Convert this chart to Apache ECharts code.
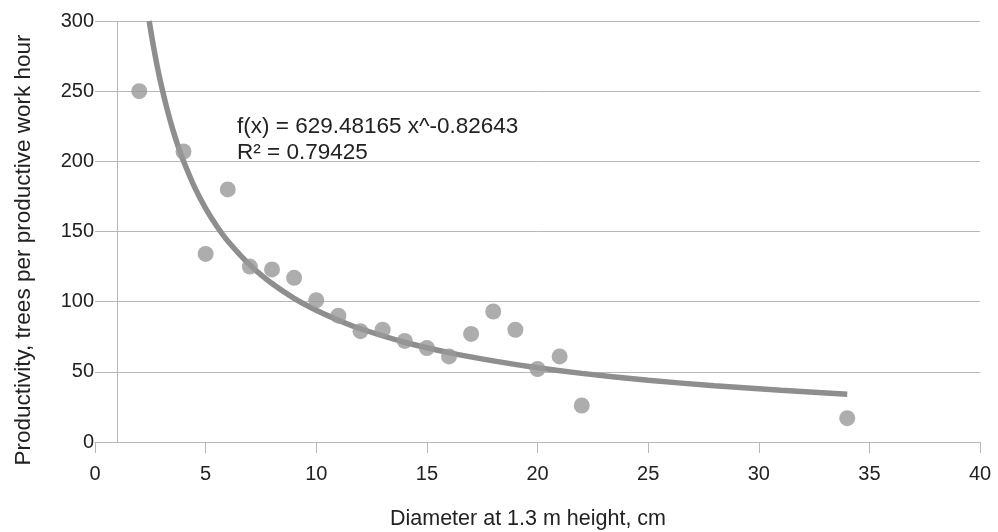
<!DOCTYPE html>
<html>
<head>
<meta charset="utf-8">
<script src="https://cdn.jsdelivr.net/npm/echarts@6/dist/echarts.min.js"></script>
<style>
html,body{margin:0;padding:0;background:#fff;}
#chart{width:998px;height:532px;}
</style>
</head>
<body>
<div id="chart"></div>
<script>
// Measured diameters (cm) and productivity (trees per productive work hour)
var diameters = [2, 4, 5, 6, 7, 8, 9, 10, 11, 12, 13, 14, 15, 16, 17, 18, 19, 20, 21, 22, 34];
var productivity = [250, 207, 134, 180, 125, 123, 117, 101, 90, 79, 80, 72, 67, 61, 77, 93, 80, 52, 61, 26, 17];

// Power trend line
var trendX = [2.45, 2.6, 2.8, 3, 3.25, 3.5, 3.75, 4, 4.5, 5, 5.5, 6, 7, 8, 9, 10, 11, 12, 14, 16, 18, 20, 22, 25, 28, 31, 34];
var trendY = [300, 285.7, 268.7, 254, 237.7, 223.5, 211.1, 200.2, 181.6, 166.5, 153.9, 143.2, 126.1, 112.9, 102.4, 93.9, 86.8, 80.7, 71.1, 63.7, 57.8, 52.9, 48.9, 44.0, 40.1, 36.9, 34.1];

var xTicks = [0, 5, 10, 15, 20, 25, 30, 35, 40];
var yTicks = [0, 50, 100, 150, 200, 250, 300];
var yAxisCrossAt = 1;

var equationLines = ['f(x) = 629.48165 x^-0.82643', 'R\u00b2 = 0.79425'];
var xTitle = 'Diameter at 1.3 m height, cm';
var yTitle = 'Productivity, trees per productive work hour';

var FONT = '"Liberation Sans", Arial, sans-serif';
var GRID = '#b8b8b8';

var chart = echarts.init(document.getElementById('chart'), null, {renderer: 'canvas'});
var scatterData = diameters.map(function (d, i) { return [d, productivity[i]]; });
var trendData = trendX.map(function (d, i) { return [d, trendY[i]]; });

chart.setOption({
  animation: false,
  backgroundColor: '#ffffff',
  textStyle: {fontFamily: FONT},
  grid: {left: 95, right: 18, top: 21, bottom: 90, containLabel: false, outerBoundsMode: 'none'},
  xAxis: {
    type: 'value',
    min: xTicks[0], max: xTicks[xTicks.length - 1], interval: 5,
    axisLine: {show: true, onZero: false, lineStyle: {color: GRID, width: 1}},
    axisTick: {show: true, inside: false, length: 11, lineStyle: {color: GRID}},
    splitLine: {show: false},
    axisLabel: {color: '#222', fontSize: 20, fontFamily: FONT, margin: 22},
    name: xTitle,
    nameLocation: 'middle',
    nameGap: 66,
    nameTextStyle: {color: '#222', fontSize: 21.5, fontFamily: FONT, padding: [0, 19, 0, 0]}
  },
  yAxis: {
    type: 'value',
    min: yTicks[0], max: yTicks[yTicks.length - 1], interval: 50,
    axisLine: {show: false},
    axisTick: {show: false},
    splitLine: {show: true, lineStyle: {color: GRID, width: 1}},
    axisLabel: {color: '#222', fontSize: 20, fontFamily: FONT, margin: 1},
    name: yTitle,
    nameLocation: 'middle',
    nameGap: 60,
    nameRotate: 90,
    nameTextStyle: {color: '#222', fontSize: 22.5, fontFamily: FONT, padding: [0, 37, 0, 0]}
  },
  series: [
    {
      type: 'line',
      data: trendData,
      smooth: 0.3,
      showSymbol: false,
      clip: true,
      lineStyle: {color: '#8e8e8e', width: 5.5},
      z: 2,
      silent: true
    },
    {
      type: 'scatter',
      data: scatterData,
      symbol: 'circle',
      symbolSize: 16,
      itemStyle: {color: '#999999'},
      z: 3,
      markLine: {
        silent: true,
        symbol: ['none', 'none'],
        label: {show: false},
        lineStyle: {color: GRID, width: 1, type: 'solid'},
        data: [{xAxis: yAxisCrossAt}],
        z: 1
      }
    }
  ],
  graphic: [
    {
      type: 'text',
      left: 237,
      top: 114,
      style: {
        text: equationLines.join('\n'),
        fill: '#222',
        font: '22.5px ' + FONT,
        lineHeight: 26
      }
    }
  ]
});
</script>
</body>
</html>
